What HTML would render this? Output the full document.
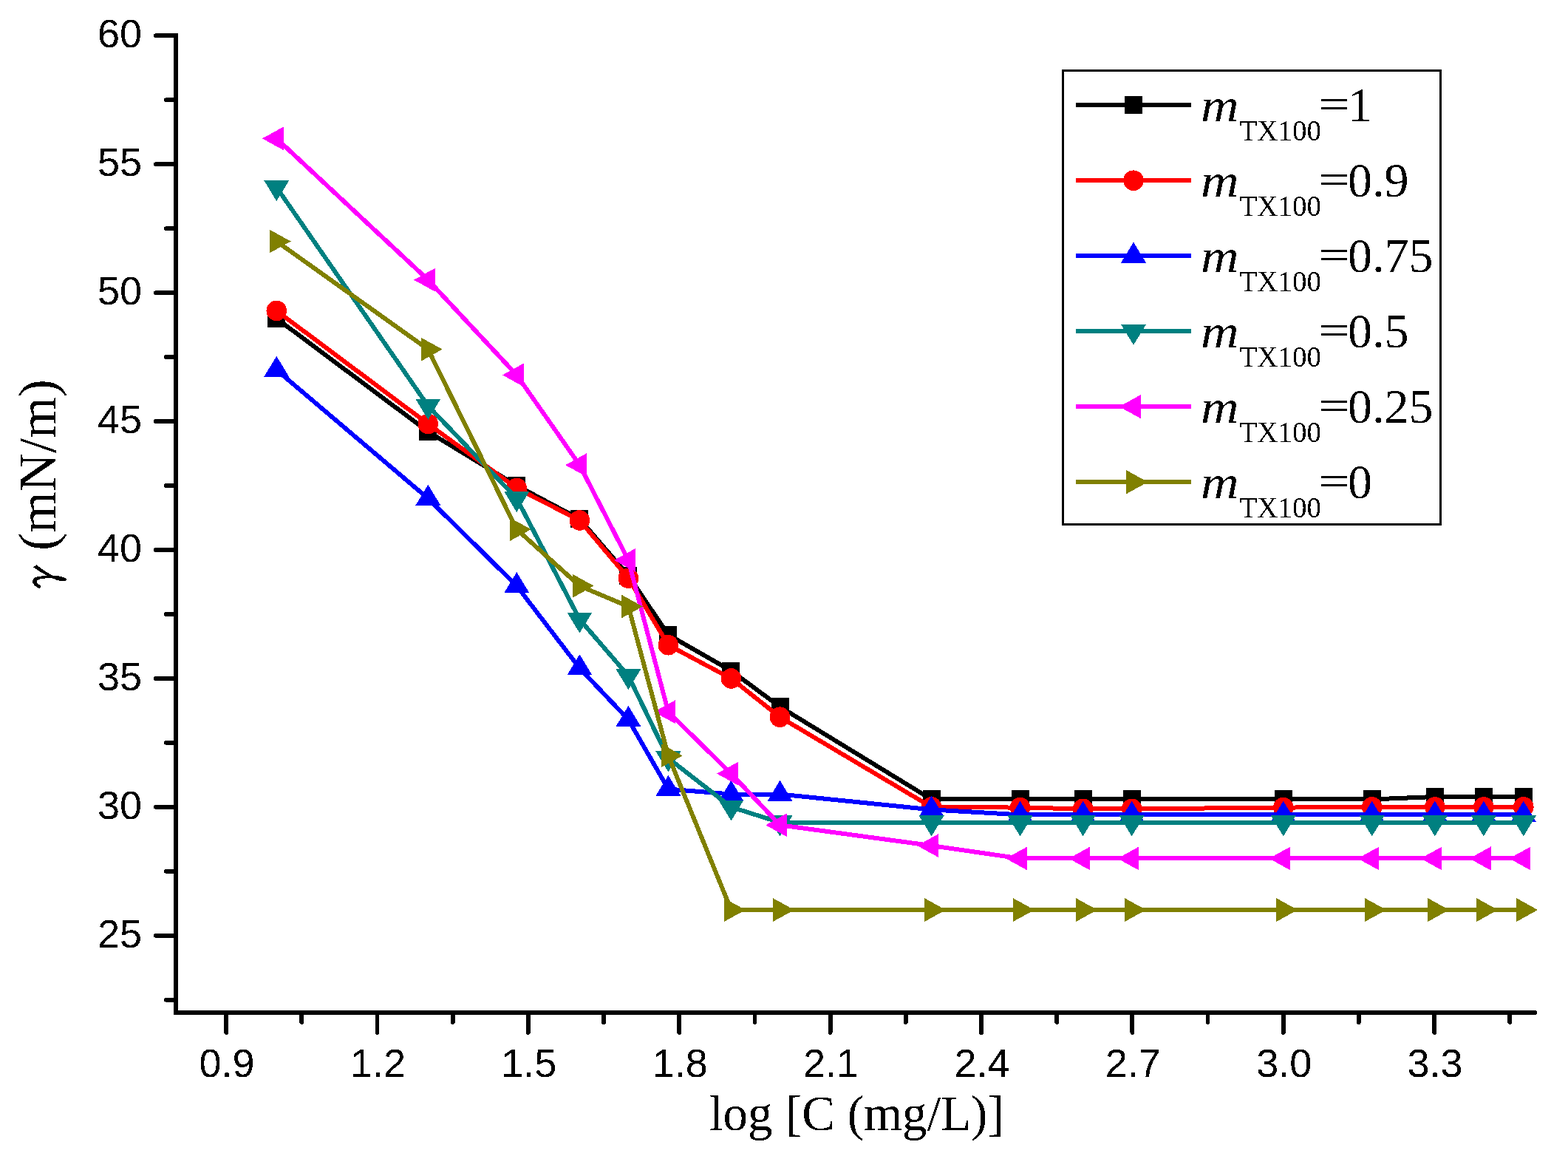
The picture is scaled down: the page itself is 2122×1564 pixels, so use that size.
<!DOCTYPE html>
<html><head><meta charset="utf-8"><title>Surface tension chart</title>
<style>html,body{margin:0;padding:0;background:#fff;overflow:hidden;}svg{display:block;}</style>
</head><body>
<svg width="2122" height="1564" viewBox="0 0 2122 1564" shape-rendering="crispEdges">
<rect width="2122" height="1564" fill="#fff"/>
<defs><filter id="crisp" x="-0.05" y="-0.05" width="1.1" height="1.1" color-interpolation-filters="sRGB"><feComponentTransfer><feFuncA type="discrete" tableValues="0 1"/></feComponentTransfer></filter></defs>
<polyline points="374.25,430.89 579.33,583.97 699.29,657.02 784.40,702.25 850.42,778.79 904.36,858.81 989.48,907.51 1055.50,956.22 1260.58,1081.46 1380.54,1081.46 1465.65,1081.46 1531.67,1081.46 1736.75,1081.46 1856.71,1081.46 1941.83,1077.98 2007.85,1077.98 2061.79,1077.98" fill="none" stroke="#000000" stroke-width="6.0" stroke-linejoin="round" stroke-linecap="round"/>
<rect x="362.25" y="418.89" width="24.0" height="24.0" fill="#000000"/>
<rect x="567.33" y="571.97" width="24.0" height="24.0" fill="#000000"/>
<rect x="687.29" y="645.02" width="24.0" height="24.0" fill="#000000"/>
<rect x="772.40" y="690.25" width="24.0" height="24.0" fill="#000000"/>
<rect x="838.42" y="766.79" width="24.0" height="24.0" fill="#000000"/>
<rect x="892.36" y="846.81" width="24.0" height="24.0" fill="#000000"/>
<rect x="977.48" y="895.51" width="24.0" height="24.0" fill="#000000"/>
<rect x="1043.50" y="944.22" width="24.0" height="24.0" fill="#000000"/>
<rect x="1248.58" y="1069.46" width="24.0" height="24.0" fill="#000000"/>
<rect x="1368.54" y="1069.46" width="24.0" height="24.0" fill="#000000"/>
<rect x="1453.65" y="1069.46" width="24.0" height="24.0" fill="#000000"/>
<rect x="1519.67" y="1069.46" width="24.0" height="24.0" fill="#000000"/>
<rect x="1724.75" y="1069.46" width="24.0" height="24.0" fill="#000000"/>
<rect x="1844.71" y="1069.46" width="24.0" height="24.0" fill="#000000"/>
<rect x="1929.83" y="1065.98" width="24.0" height="24.0" fill="#000000"/>
<rect x="1995.85" y="1065.98" width="24.0" height="24.0" fill="#000000"/>
<rect x="2049.79" y="1065.98" width="24.0" height="24.0" fill="#000000"/>
<polyline points="374.25,420.45 579.33,573.53 699.29,660.50 784.40,703.99 850.42,782.27 904.36,872.72 989.48,917.95 1055.50,970.13 1260.58,1091.90 1380.54,1092.60 1465.65,1094.34 1531.67,1094.34 1736.75,1092.60 1856.71,1091.90 1941.83,1091.90 2007.85,1091.90 2061.79,1091.90" fill="none" stroke="#FF0000" stroke-width="6.0" stroke-linejoin="round" stroke-linecap="round"/>
<circle cx="374.25" cy="420.45" r="13.8" fill="#FF0000"/>
<circle cx="579.33" cy="573.53" r="13.8" fill="#FF0000"/>
<circle cx="699.29" cy="660.50" r="13.8" fill="#FF0000"/>
<circle cx="784.40" cy="703.99" r="13.8" fill="#FF0000"/>
<circle cx="850.42" cy="782.27" r="13.8" fill="#FF0000"/>
<circle cx="904.36" cy="872.72" r="13.8" fill="#FF0000"/>
<circle cx="989.48" cy="917.95" r="13.8" fill="#FF0000"/>
<circle cx="1055.50" cy="970.13" r="13.8" fill="#FF0000"/>
<circle cx="1260.58" cy="1091.90" r="13.8" fill="#FF0000"/>
<circle cx="1380.54" cy="1092.60" r="13.8" fill="#FF0000"/>
<circle cx="1465.65" cy="1094.34" r="13.8" fill="#FF0000"/>
<circle cx="1531.67" cy="1094.34" r="13.8" fill="#FF0000"/>
<circle cx="1736.75" cy="1092.60" r="13.8" fill="#FF0000"/>
<circle cx="1856.71" cy="1091.90" r="13.8" fill="#FF0000"/>
<circle cx="1941.83" cy="1091.90" r="13.8" fill="#FF0000"/>
<circle cx="2007.85" cy="1091.90" r="13.8" fill="#FF0000"/>
<circle cx="2061.79" cy="1091.90" r="13.8" fill="#FF0000"/>
<polyline points="374.25,500.47 579.33,674.42 699.29,792.71 784.40,904.03 850.42,973.61 904.36,1067.55 989.48,1074.51 1055.50,1074.51 1260.58,1095.38 1380.54,1102.34 1465.65,1102.34 1531.67,1102.34 1736.75,1102.34 1856.71,1102.34 1941.83,1102.34 2007.85,1102.34 2061.79,1102.34" fill="none" stroke="#0000FF" stroke-width="6.0" stroke-linejoin="round" stroke-linecap="round"/>
<polygon points="374.25,481.80 357.25,509.80 391.25,509.80" fill="#0000FF"/>
<polygon points="579.33,655.75 562.33,683.75 596.33,683.75" fill="#0000FF"/>
<polygon points="699.29,774.04 682.29,802.04 716.29,802.04" fill="#0000FF"/>
<polygon points="784.40,885.37 767.40,913.37 801.40,913.37" fill="#0000FF"/>
<polygon points="850.42,954.95 833.42,982.95 867.42,982.95" fill="#0000FF"/>
<polygon points="904.36,1048.88 887.36,1076.88 921.36,1076.88" fill="#0000FF"/>
<polygon points="989.48,1055.84 972.48,1083.84 1006.48,1083.84" fill="#0000FF"/>
<polygon points="1055.50,1055.84 1038.50,1083.84 1072.50,1083.84" fill="#0000FF"/>
<polygon points="1260.58,1076.71 1243.58,1104.71 1277.58,1104.71" fill="#0000FF"/>
<polygon points="1380.54,1083.67 1363.54,1111.67 1397.54,1111.67" fill="#0000FF"/>
<polygon points="1465.65,1083.67 1448.65,1111.67 1482.65,1111.67" fill="#0000FF"/>
<polygon points="1531.67,1083.67 1514.67,1111.67 1548.67,1111.67" fill="#0000FF"/>
<polygon points="1736.75,1083.67 1719.75,1111.67 1753.75,1111.67" fill="#0000FF"/>
<polygon points="1856.71,1083.67 1839.71,1111.67 1873.71,1111.67" fill="#0000FF"/>
<polygon points="1941.83,1083.67 1924.83,1111.67 1958.83,1111.67" fill="#0000FF"/>
<polygon points="2007.85,1083.67 1990.85,1111.67 2024.85,1111.67" fill="#0000FF"/>
<polygon points="2061.79,1083.67 2044.79,1111.67 2078.79,1111.67" fill="#0000FF"/>
<polyline points="374.25,253.46 579.33,549.18 699.29,674.42 784.40,837.93 850.42,914.47 904.36,1025.80 989.48,1091.90 1055.50,1112.77 1260.58,1112.77 1380.54,1112.77 1465.65,1112.77 1531.67,1112.77 1736.75,1112.77 1856.71,1112.77 1941.83,1112.77 2007.85,1112.77 2061.79,1112.77" fill="none" stroke="#008080" stroke-width="6.0" stroke-linejoin="round" stroke-linecap="round"/>
<polygon points="374.25,272.13 357.25,244.13 391.25,244.13" fill="#008080"/>
<polygon points="579.33,567.84 562.33,539.84 596.33,539.84" fill="#008080"/>
<polygon points="699.29,693.09 682.29,665.09 716.29,665.09" fill="#008080"/>
<polygon points="784.40,856.60 767.40,828.60 801.40,828.60" fill="#008080"/>
<polygon points="850.42,933.14 833.42,905.14 867.42,905.14" fill="#008080"/>
<polygon points="904.36,1044.47 887.36,1016.47 921.36,1016.47" fill="#008080"/>
<polygon points="989.48,1110.57 972.48,1082.57 1006.48,1082.57" fill="#008080"/>
<polygon points="1055.50,1131.44 1038.50,1103.44 1072.50,1103.44" fill="#008080"/>
<polygon points="1260.58,1131.44 1243.58,1103.44 1277.58,1103.44" fill="#008080"/>
<polygon points="1380.54,1131.44 1363.54,1103.44 1397.54,1103.44" fill="#008080"/>
<polygon points="1465.65,1131.44 1448.65,1103.44 1482.65,1103.44" fill="#008080"/>
<polygon points="1531.67,1131.44 1514.67,1103.44 1548.67,1103.44" fill="#008080"/>
<polygon points="1736.75,1131.44 1719.75,1103.44 1753.75,1103.44" fill="#008080"/>
<polygon points="1856.71,1131.44 1839.71,1103.44 1873.71,1103.44" fill="#008080"/>
<polygon points="1941.83,1131.44 1924.83,1103.44 1958.83,1103.44" fill="#008080"/>
<polygon points="2007.85,1131.44 1990.85,1103.44 2024.85,1103.44" fill="#008080"/>
<polygon points="2061.79,1131.44 2044.79,1103.44 2078.79,1103.44" fill="#008080"/>
<polyline points="374.25,187.36 579.33,378.70 699.29,507.43 784.40,629.19 850.42,757.92 904.36,963.18 989.48,1046.67 1055.50,1116.25 1260.58,1144.09 1380.54,1161.48 1465.65,1161.48 1531.67,1161.48 1736.75,1161.48 1856.71,1161.48 1941.83,1161.48 2007.85,1161.48 2061.79,1161.48" fill="none" stroke="#FF00FF" stroke-width="6.0" stroke-linejoin="round" stroke-linecap="round"/>
<polygon points="354.92,187.36 383.92,171.36 383.92,203.36" fill="#FF00FF"/>
<polygon points="559.99,378.70 588.99,362.70 588.99,394.70" fill="#FF00FF"/>
<polygon points="679.95,507.43 708.95,491.43 708.95,523.43" fill="#FF00FF"/>
<polygon points="765.07,629.19 794.07,613.19 794.07,645.19" fill="#FF00FF"/>
<polygon points="831.09,757.92 860.09,741.92 860.09,773.92" fill="#FF00FF"/>
<polygon points="885.03,963.18 914.03,947.18 914.03,979.18" fill="#FF00FF"/>
<polygon points="970.15,1046.67 999.15,1030.67 999.15,1062.67" fill="#FF00FF"/>
<polygon points="1036.17,1116.25 1065.17,1100.25 1065.17,1132.25" fill="#FF00FF"/>
<polygon points="1241.24,1144.09 1270.24,1128.09 1270.24,1160.09" fill="#FF00FF"/>
<polygon points="1361.20,1161.48 1390.20,1145.48 1390.20,1177.48" fill="#FF00FF"/>
<polygon points="1446.32,1161.48 1475.32,1145.48 1475.32,1177.48" fill="#FF00FF"/>
<polygon points="1512.34,1161.48 1541.34,1145.48 1541.34,1177.48" fill="#FF00FF"/>
<polygon points="1717.42,1161.48 1746.42,1145.48 1746.42,1177.48" fill="#FF00FF"/>
<polygon points="1837.38,1161.48 1866.38,1145.48 1866.38,1177.48" fill="#FF00FF"/>
<polygon points="1922.49,1161.48 1951.49,1145.48 1951.49,1177.48" fill="#FF00FF"/>
<polygon points="1988.51,1161.48 2017.51,1145.48 2017.51,1177.48" fill="#FF00FF"/>
<polygon points="2042.45,1161.48 2071.45,1145.48 2071.45,1177.48" fill="#FF00FF"/>
<polyline points="374.25,326.52 579.33,472.64 699.29,716.17 784.40,792.71 850.42,820.54 904.36,1022.32 989.48,1231.06 1055.50,1231.06 1260.58,1231.06 1380.54,1231.06 1465.65,1231.06 1531.67,1231.06 1736.75,1231.06 1856.71,1231.06 1941.83,1231.06 2007.85,1231.06 2061.79,1231.06" fill="none" stroke="#808000" stroke-width="6.0" stroke-linejoin="round" stroke-linecap="round"/>
<polygon points="393.58,326.52 364.58,310.52 364.58,342.52" fill="#808000"/>
<polygon points="598.66,472.64 569.66,456.64 569.66,488.64" fill="#808000"/>
<polygon points="718.62,716.17 689.62,700.17 689.62,732.17" fill="#808000"/>
<polygon points="803.74,792.71 774.74,776.71 774.74,808.71" fill="#808000"/>
<polygon points="869.76,820.54 840.76,804.54 840.76,836.54" fill="#808000"/>
<polygon points="923.70,1022.32 894.70,1006.32 894.70,1038.32" fill="#808000"/>
<polygon points="1008.81,1231.06 979.81,1215.06 979.81,1247.06" fill="#808000"/>
<polygon points="1074.83,1231.06 1045.83,1215.06 1045.83,1247.06" fill="#808000"/>
<polygon points="1279.91,1231.06 1250.91,1215.06 1250.91,1247.06" fill="#808000"/>
<polygon points="1399.87,1231.06 1370.87,1215.06 1370.87,1247.06" fill="#808000"/>
<polygon points="1484.99,1231.06 1455.99,1215.06 1455.99,1247.06" fill="#808000"/>
<polygon points="1551.01,1231.06 1522.01,1215.06 1522.01,1247.06" fill="#808000"/>
<polygon points="1756.08,1231.06 1727.08,1215.06 1727.08,1247.06" fill="#808000"/>
<polygon points="1876.04,1231.06 1847.04,1215.06 1847.04,1247.06" fill="#808000"/>
<polygon points="1961.16,1231.06 1932.16,1215.06 1932.16,1247.06" fill="#808000"/>
<polygon points="2027.18,1231.06 1998.18,1215.06 1998.18,1247.06" fill="#808000"/>
<polygon points="2081.12,1231.06 2052.12,1215.06 2052.12,1247.06" fill="#808000"/>
<g stroke="#000" fill="none">
<line x1="238.0" y1="45" x2="238.0" y2="1373.0" stroke-width="6.0"/>
<line x1="235.0" y1="1370.0" x2="2077.38" y2="1370.0" stroke-width="6.0"/>
<circle cx="2077.38" cy="1370.0" r="3.0" fill="#000" stroke="none"/>
<line x1="210.8" y1="48.20" x2="238.0" y2="48.20" stroke-width="5.6" stroke-linecap="round"/>
<line x1="210.8" y1="222.15" x2="238.0" y2="222.15" stroke-width="5.6" stroke-linecap="round"/>
<line x1="210.8" y1="396.10" x2="238.0" y2="396.10" stroke-width="5.6" stroke-linecap="round"/>
<line x1="210.8" y1="570.05" x2="238.0" y2="570.05" stroke-width="5.6" stroke-linecap="round"/>
<line x1="210.8" y1="744.00" x2="238.0" y2="744.00" stroke-width="5.6" stroke-linecap="round"/>
<line x1="210.8" y1="917.95" x2="238.0" y2="917.95" stroke-width="5.6" stroke-linecap="round"/>
<line x1="210.8" y1="1091.90" x2="238.0" y2="1091.90" stroke-width="5.6" stroke-linecap="round"/>
<line x1="210.8" y1="1265.85" x2="238.0" y2="1265.85" stroke-width="5.6" stroke-linecap="round"/>
<line x1="224.8" y1="135.18" x2="238.0" y2="135.18" stroke-width="5.6" stroke-linecap="round"/>
<line x1="224.8" y1="309.12" x2="238.0" y2="309.12" stroke-width="5.6" stroke-linecap="round"/>
<line x1="224.8" y1="483.07" x2="238.0" y2="483.07" stroke-width="5.6" stroke-linecap="round"/>
<line x1="224.8" y1="657.02" x2="238.0" y2="657.02" stroke-width="5.6" stroke-linecap="round"/>
<line x1="224.8" y1="830.98" x2="238.0" y2="830.98" stroke-width="5.6" stroke-linecap="round"/>
<line x1="224.8" y1="1004.93" x2="238.0" y2="1004.93" stroke-width="5.6" stroke-linecap="round"/>
<line x1="224.8" y1="1178.88" x2="238.0" y2="1178.88" stroke-width="5.6" stroke-linecap="round"/>
<line x1="224.8" y1="1352.83" x2="238.0" y2="1352.83" stroke-width="5.6" stroke-linecap="round"/>
<line x1="306.12" y1="1370.0" x2="306.12" y2="1397" stroke-width="5.8" stroke-linecap="round"/>
<line x1="510.50" y1="1370.0" x2="510.50" y2="1397" stroke-width="5.8" stroke-linecap="round"/>
<line x1="714.88" y1="1370.0" x2="714.88" y2="1397" stroke-width="5.8" stroke-linecap="round"/>
<line x1="919.25" y1="1370.0" x2="919.25" y2="1397" stroke-width="5.8" stroke-linecap="round"/>
<line x1="1123.62" y1="1370.0" x2="1123.62" y2="1397" stroke-width="5.8" stroke-linecap="round"/>
<line x1="1328.00" y1="1370.0" x2="1328.00" y2="1397" stroke-width="5.8" stroke-linecap="round"/>
<line x1="1532.37" y1="1370.0" x2="1532.37" y2="1397" stroke-width="5.8" stroke-linecap="round"/>
<line x1="1736.75" y1="1370.0" x2="1736.75" y2="1397" stroke-width="5.8" stroke-linecap="round"/>
<line x1="1941.12" y1="1370.0" x2="1941.12" y2="1397" stroke-width="5.8" stroke-linecap="round"/>
<line x1="408.31" y1="1370.0" x2="408.31" y2="1383" stroke-width="5.8" stroke-linecap="round"/>
<line x1="612.69" y1="1370.0" x2="612.69" y2="1383" stroke-width="5.8" stroke-linecap="round"/>
<line x1="817.06" y1="1370.0" x2="817.06" y2="1383" stroke-width="5.8" stroke-linecap="round"/>
<line x1="1021.44" y1="1370.0" x2="1021.44" y2="1383" stroke-width="5.8" stroke-linecap="round"/>
<line x1="1225.81" y1="1370.0" x2="1225.81" y2="1383" stroke-width="5.8" stroke-linecap="round"/>
<line x1="1430.19" y1="1370.0" x2="1430.19" y2="1383" stroke-width="5.8" stroke-linecap="round"/>
<line x1="1634.56" y1="1370.0" x2="1634.56" y2="1383" stroke-width="5.8" stroke-linecap="round"/>
<line x1="1838.94" y1="1370.0" x2="1838.94" y2="1383" stroke-width="5.8" stroke-linecap="round"/>
<line x1="2043.31" y1="1370.0" x2="2043.31" y2="1383" stroke-width="5.8" stroke-linecap="round"/>
</g>
<g filter="url(#crisp)" font-family="'Liberation Sans', Arial, sans-serif" font-size="54" fill="#000">
<text x="192" y="64.20" text-anchor="end">60</text>
<text x="192" y="238.15" text-anchor="end">55</text>
<text x="192" y="412.10" text-anchor="end">50</text>
<text x="192" y="586.05" text-anchor="end">45</text>
<text x="192" y="760.00" text-anchor="end">40</text>
<text x="192" y="933.95" text-anchor="end">35</text>
<text x="192" y="1107.90" text-anchor="end">30</text>
<text x="192" y="1281.85" text-anchor="end">25</text>
<text x="307.12" y="1457" text-anchor="middle">0.9</text>
<text x="511.50" y="1457" text-anchor="middle">1.2</text>
<text x="715.88" y="1457" text-anchor="middle">1.5</text>
<text x="920.25" y="1457" text-anchor="middle">1.8</text>
<text x="1124.62" y="1457" text-anchor="middle">2.1</text>
<text x="1329.00" y="1457" text-anchor="middle">2.4</text>
<text x="1533.37" y="1457" text-anchor="middle">2.7</text>
<text x="1737.75" y="1457" text-anchor="middle">3.0</text>
<text x="1942.12" y="1457" text-anchor="middle">3.3</text>
</g>
<g filter="url(#crisp)" font-family="'Liberation Serif', 'Times New Roman', serif" fill="#000">
<text x="960" y="1529" font-size="67">log<tspan dx="0.5"> [C (mg/L)]</tspan></text>
<text transform="translate(82.6 807.4) rotate(-90) scale(0.91 1.2)" font-family="IPAGothic, 'DejaVu Serif', serif" font-size="60">γ</text>
<text transform="translate(75 745) rotate(-90)" font-size="72">(mN/m)</text>
</g>
<rect x="1438.5" y="95.5" width="510.9" height="614" fill="none" stroke="#000" stroke-width="3"/>
<line x1="1456" y1="142.20" x2="1612" y2="142.20" stroke="#000000" stroke-width="6.0"/>
<rect x="1522.00" y="130.20" width="24.0" height="24.0" fill="#000000"/>
<g filter="url(#crisp)" font-family="'Liberation Serif', 'Times New Roman', serif" fill="#000">
<text transform="translate(1625 164.20) scale(1.08 0.97)" font-style="italic" font-size="66">m</text>
<text x="1677.5" y="190.20" font-size="39">TX100</text>
<text transform="translate(1784 140.20) scale(1.16 0.85)" y="23" font-size="66">=</text>
<text x="1824" y="164.20" font-size="66">1</text>
</g>
<line x1="1456" y1="244.20" x2="1612" y2="244.20" stroke="#FF0000" stroke-width="6.0"/>
<circle cx="1534.00" cy="244.20" r="13.8" fill="#FF0000"/>
<g filter="url(#crisp)" font-family="'Liberation Serif', 'Times New Roman', serif" fill="#000">
<text transform="translate(1625 266.20) scale(1.08 0.97)" font-style="italic" font-size="66">m</text>
<text x="1677.5" y="292.20" font-size="39">TX100</text>
<text transform="translate(1784 242.20) scale(1.16 0.85)" y="23" font-size="66">=</text>
<text x="1824" y="266.20" font-size="66">0.9</text>
</g>
<line x1="1456" y1="346.20" x2="1612" y2="346.20" stroke="#0000FF" stroke-width="6.0"/>
<polygon points="1534.00,327.53 1517.00,355.53 1551.00,355.53" fill="#0000FF"/>
<g filter="url(#crisp)" font-family="'Liberation Serif', 'Times New Roman', serif" fill="#000">
<text transform="translate(1625 368.20) scale(1.08 0.97)" font-style="italic" font-size="66">m</text>
<text x="1677.5" y="394.20" font-size="39">TX100</text>
<text transform="translate(1784 344.20) scale(1.16 0.85)" y="23" font-size="66">=</text>
<text x="1824" y="368.20" font-size="66">0.75</text>
</g>
<line x1="1456" y1="448.20" x2="1612" y2="448.20" stroke="#008080" stroke-width="6.0"/>
<polygon points="1534.00,466.87 1517.00,438.87 1551.00,438.87" fill="#008080"/>
<g filter="url(#crisp)" font-family="'Liberation Serif', 'Times New Roman', serif" fill="#000">
<text transform="translate(1625 470.20) scale(1.08 0.97)" font-style="italic" font-size="66">m</text>
<text x="1677.5" y="496.20" font-size="39">TX100</text>
<text transform="translate(1784 446.20) scale(1.16 0.85)" y="23" font-size="66">=</text>
<text x="1824" y="470.20" font-size="66">0.5</text>
</g>
<line x1="1456" y1="550.20" x2="1612" y2="550.20" stroke="#FF00FF" stroke-width="6.0"/>
<polygon points="1514.67,550.20 1543.67,534.20 1543.67,566.20" fill="#FF00FF"/>
<g filter="url(#crisp)" font-family="'Liberation Serif', 'Times New Roman', serif" fill="#000">
<text transform="translate(1625 572.20) scale(1.08 0.97)" font-style="italic" font-size="66">m</text>
<text x="1677.5" y="598.20" font-size="39">TX100</text>
<text transform="translate(1784 548.20) scale(1.16 0.85)" y="23" font-size="66">=</text>
<text x="1824" y="572.20" font-size="66">0.25</text>
</g>
<line x1="1456" y1="652.20" x2="1612" y2="652.20" stroke="#808000" stroke-width="6.0"/>
<polygon points="1553.33,652.20 1524.33,636.20 1524.33,668.20" fill="#808000"/>
<g filter="url(#crisp)" font-family="'Liberation Serif', 'Times New Roman', serif" fill="#000">
<text transform="translate(1625 674.20) scale(1.08 0.97)" font-style="italic" font-size="66">m</text>
<text x="1677.5" y="700.20" font-size="39">TX100</text>
<text transform="translate(1784 650.20) scale(1.16 0.85)" y="23" font-size="66">=</text>
<text x="1824" y="674.20" font-size="66">0</text>
</g>
</svg>
</body></html>
